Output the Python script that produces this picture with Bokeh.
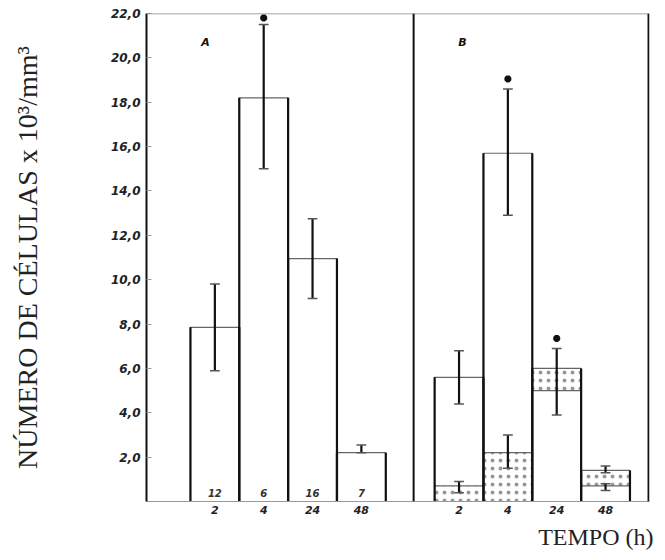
import math
from bokeh.plotting import figure
from bokeh.models import Range1d, FixedTicker, Span, Title, ColumnDataSource
from bokeh.core.properties import value
from bokeh.embed import file_html
from bokeh.resources import INLINE

NAN = float("nan")

# ---- data -------------------------------------------------------------
times = ["2", "4", "24", "48"]

# panel A
a_mean = [7.85, 18.2, 10.95, 2.2]
a_lo = [5.9, 15.0, 9.15, 2.2]
a_hi = [9.8, 21.5, 12.75, 2.55]
a_n = ["12", "6", "16", "7"]
a_sig = [False, True, False, False]

# panel B : open bars and stippled bars
b_open = [5.6, 15.7, 5.0, 0.7]
b_open_lo = [4.4, 12.9, 3.9, 0.5]
b_open_hi = [6.8, 18.6, 6.9, 0.8]
b_open_sig = [False, True, True, False]
b_dot = [0.7, 2.2, 6.0, 1.4]
b_dot_lo = [0.4, 1.5, NAN, 1.3]
b_dot_hi = [0.9, 3.0, NAN, 1.6]

y_ticks = [2, 4, 6, 8, 10, 12, 14, 16, 18, 20, 22]
y_tick_labels = ["2,0", "4,0", "6,0", "8,0", "10,0", "12,0", "14,0",
                 "16,0", "18,0", "20,0", "22,0"]

y_title = "NÚMERO DE CÉLULAS x 10³/mm³"
x_title = "TEMPO (h)"

# ---- layout ------------------------------------------------------------
a_x = [i for i in range(len(times))]
b_x = [5 + i for i in range(len(times))]
X0, X1 = -1.4, 8.9
DIV = 4.07

p = figure(width=665, height=560, output_backend="svg", toolbar_location=None,
           x_range=Range1d(X0, X1), y_range=Range1d(0, 22),
           min_border_left=146, min_border_right=16, min_border_top=13,
           min_border_bottom=59)
p.outline_line_color = None
p.xgrid.visible = False
p.ygrid.visible = False
p.background_fill_color = "white"
p.border_fill_color = "white"

tick_font = "DejaVu Sans"

# y axis
yax = p.yaxis[0]
yax.ticker = FixedTicker(ticks=y_ticks)
yax.major_label_overrides = {t: l for t, l in zip(y_ticks, y_tick_labels)}
yax.major_label_text_font = tick_font
yax.major_label_text_font_style = "bold italic"
yax.major_label_text_font_size = "12px"
yax.major_label_text_color = "#222222"
yax.major_label_standoff = 6
yax.axis_line_color = "#111111"
yax.axis_line_width = 2
yax.major_tick_in = 5
yax.major_tick_out = 0
yax.major_tick_line_color = "#999999"
yax.minor_tick_line_color = None
yax.axis_label = y_title
yax.axis_label_text_font = "Liberation Serif"
yax.axis_label_text_font_style = "normal"
yax.axis_label_text_font_size = "28px"
yax.axis_label_text_color = "#222222"
yax.axis_label_standoff = 65

# x axis
xax = p.xaxis[0]
xt = a_x + b_x
xax.ticker = FixedTicker(ticks=xt)
xax.major_label_overrides = {t: l for t, l in zip(xt, times + times)}
xax.major_label_text_font = tick_font
xax.major_label_text_font_style = "bold italic"
xax.major_label_text_font_size = "11px"
xax.major_label_text_color = "#222222"
xax.major_label_standoff = -2
xax.axis_line_color = "#999999"
xax.axis_line_width = 1
xax.major_tick_line_color = None
xax.minor_tick_line_color = None

# x title, right-aligned below the axis
p.add_layout(Title(text=x_title, align="right", text_font="Liberation Serif",
                   text_font_size="24px", text_font_style="normal",
                   text_color="#222222", offset=-4), "below")

# frame lines
p.add_layout(Span(location=22, dimension="width", line_color="#888888", line_width=1.5))
p.add_layout(Span(location=X1 - 0.02, dimension="height", line_color="#111111", line_width=2))
p.add_layout(Span(location=DIV, dimension="height", line_color="#111111", line_width=2))

# ---- panel A bars ------------------------------------------------------
p.vbar(x=a_x, top=a_mean, bottom=0, width=1, fill_color="white",
       line_color="#666666", line_width=1.2)

# ---- panel B bars: taller bar behind, shorter in front ---------------------
back_top = [max(o, d) for o, d in zip(b_open, b_dot)]
back_hatch = ["." if d > o else " " for o, d in zip(b_open, b_dot)]
front_top = [min(o, d) for o, d in zip(b_open, b_dot)]
front_hatch = ["." if d < o else " " for o, d in zip(b_open, b_dot)]

src_back = ColumnDataSource(dict(x=b_x, top=back_top, hatch=back_hatch))
src_front = ColumnDataSource(dict(x=b_x, top=front_top, hatch=front_hatch))
for src in (src_back, src_front):
    p.vbar(x="x", top="top", bottom=0, width=1, source=src, fill_color="white",
           hatch_pattern="hatch", hatch_color="#999999", hatch_scale=8,
           hatch_weight=1.2, line_color="#666666", line_width=1.2)

# thick vertical bar edges
edge_x, edge_top = [], []
for x, t in zip(a_x + b_x, a_mean + back_top):
    edge_x += [x - 0.5, x + 0.5]
    edge_top += [t, t]
p.segment(x0=edge_x, y0=[0] * len(edge_x), x1=edge_x, y1=edge_top,
          line_color="#111111", line_width=2.2)

# ---- error bars -------------------------------------------------------
ex = a_x + b_x + b_x
elo = a_lo + b_open_lo + b_dot_lo
ehi = a_hi + b_open_hi + b_dot_hi
p.segment(x0=ex, y0=elo, x1=ex, y1=ehi, line_color="#111111", line_width=2.2)
cw = 0.1
p.segment(x0=[x - cw for x in ex], y0=ehi, x1=[x + cw for x in ex], y1=ehi,
          line_color="#555555", line_width=1.5)
p.segment(x0=[x - cw for x in ex], y0=elo, x1=[x + cw for x in ex], y1=elo,
          line_color="#555555", line_width=1.5)

# significance marks
sx = [x for x, s in zip(a_x, a_sig) if s] + [x for x, s in zip(b_x, b_open_sig) if s]
sy = [h + 0.3 for h, s in zip(a_hi, a_sig) if s] + [h + 0.45 for h, s in zip(b_open_hi, b_open_sig) if s]
p.scatter(x=sx, y=sy, marker="asterisk", size=7, line_width=2.5, line_color="#111111")

# n labels
p.text(x=a_x, y=[0.4] * len(a_x), text=a_n, text_align="center", text_baseline="middle",
       text_font=value(tick_font), text_font_style="bold italic",
       text_font_size="10px", text_color="#333333")

# panel labels
p.text(x=[-0.19, 5.07], y=[20.7, 20.7], text=["A", "B"], text_align="center",
       text_baseline="middle", text_font=value(tick_font),
       text_font_style="bold italic", text_font_size="11px", text_color="#111111")

open("out.html", "w").write(file_html(p, INLINE))
